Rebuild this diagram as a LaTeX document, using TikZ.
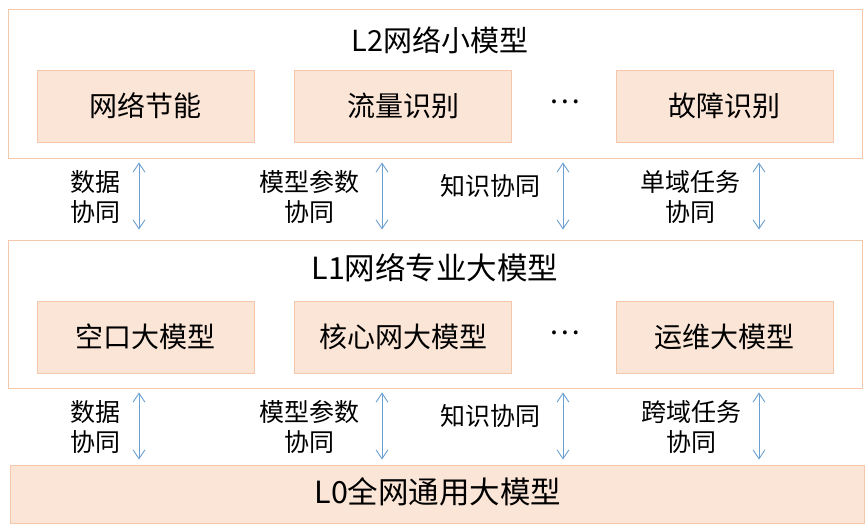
\documentclass[tikz,border=0pt]{standalone}
\usepackage{fontspec}
\newfontfamily\cjk{Noto Sans CJK SC}
\usetikzlibrary{arrows.meta}

\definecolor{peach}{HTML}{FBE5D6}
\definecolor{peachline}{HTML}{F4C7AB}
\definecolor{arrowblue}{HTML}{6A9FD2}

\begin{document}
\begin{tikzpicture}[
  x=1pt, y=-1pt,
  layer/.style={draw=peachline, fill=white, line width=0.8pt, inner sep=0pt},
  base/.style={draw=peachline, fill=peach, line width=0.8pt, inner sep=0pt},
  model/.style={draw=peachline, fill=peach, line width=0.8pt, inner sep=0pt,
    minimum width=217pt, minimum height=72pt,
    font=\cjk\fontsize{28}{32}\selectfont},
  title/.style={font=\cjk\fontsize{29}{33}\selectfont},
  bigtitle/.style={font=\cjk\fontsize{30.5}{34}\selectfont},
  tag/.style={font=\cjk\fontsize{25}{30}\selectfont, align=center},
  dual/.style={{Straight Barb[length=9pt, width=12pt]}-{Straight Barb[length=9pt, width=12pt]},
    arrowblue, line width=0.9pt},
]

\useasboundingbox (0,0) rectangle (867,525);

% 三层外框
\node[layer, minimum width=854pt, minimum height=149pt] (l2) at (435,83.5) {};
\node[layer, minimum width=854pt, minimum height=148pt] (l1) at (435,314) {};
\node[base, minimum width=854pt, minimum height=58pt] (l0) at (437,494) {};

% L2 层
\node[title] (l2title) at (440,40) {L2网络小模型};
\node[model] (jieneng) at (145.5,106) {网络节能};
\node[model] (liuliang) at (403,106) {流量识别};
\node[title] (dots2) at (565,102) {…};
\node[model] (guzhang) at (724.5,106) {故障识别};

% L1 层
\node[bigtitle] (l1title) at (435,268) {L1网络专业大模型};
\node[model] (kongkou) at (145.5,337) {空口大模型};
\node[model] (hexin) at (403,337) {核心网大模型};
\node[title] (dots1) at (565,333) {…};
\node[model] (yunwei) at (724.5,337) {运维大模型};

% L0 层
\node[bigtitle] (l0title) at (438,492) {L0全网通用大模型};

% 协同箭头的横向位置
\coordinate (c1) at (139,0);
\coordinate (c2) at (382,0);
\coordinate (c3) at (563,0);
\coordinate (c4) at (759,0);

% L2 与 L1 之间
\foreach \c in {c1,c2,c3,c4}
  \draw[dual, shorten <=4pt, shorten >=10pt] (l2.south -| \c) -- (l1.north -| \c);
\node[tag] (t21) at (95,197) {数据\\协同};
\node[tag] (t22) at (309,197) {模型参数\\协同};
\node[tag] (t23) at (490,186) {知识协同};
\node[tag] (t24) at (690,197) {单域任务\\协同};

% L1 与 L0 之间
\foreach \c in {c1,c2,c3,c4}
  \draw[dual, shorten <=4pt, shorten >=5pt] (l1.south -| \c) -- (l0.north -| \c);
\node[tag] (t11) at (95,427) {数据\\协同};
\node[tag] (t12) at (309,427) {模型参数\\协同};
\node[tag] (t13) at (490,416) {知识协同};
\node[tag] (t14) at (691,427) {跨域任务\\协同};

\end{tikzpicture}
\end{document}
